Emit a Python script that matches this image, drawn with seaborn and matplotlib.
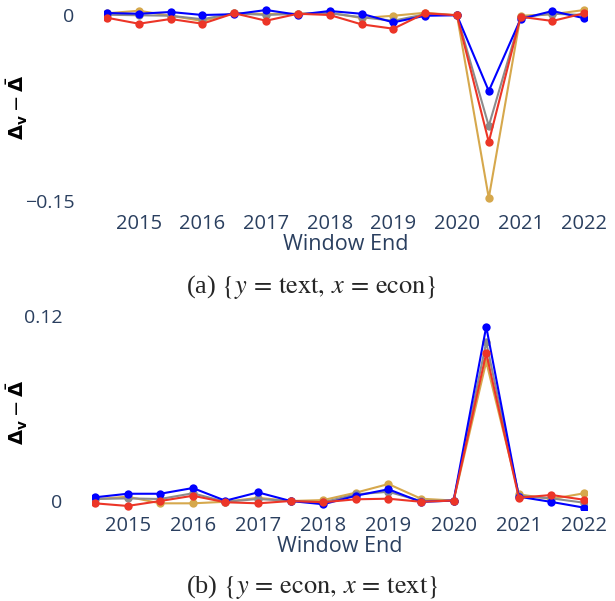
import numpy as np
import pandas as pd
import matplotlib
matplotlib.use("Agg")
import matplotlib.pyplot as plt
import seaborn as sns

# ---- data ----
window_end = [2014.5, 2015.0, 2015.5, 2016.0, 2016.5, 2017.0, 2017.5, 2018.0,
              2018.5, 2019.0, 2019.5, 2020.0, 2020.5, 2021.0, 2021.5, 2022.0]
series_names = ["gold", "gray", "blue", "red"]

# panel (a) {y = text, x = econ}
a_gold = [0.0010, 0.0030, -0.0010, -0.0052, 0.0010, 0.0004, 0.0006, 0.0014,
          -0.0028, -0.0010, 0.0014, -0.0006, -0.1472, -0.0010, 0.0002, 0.0036]
a_gray = [-0.0002, -0.0006, -0.0010, -0.0038, 0.0010, -0.0004, 0.0006, 0.0010,
          -0.0022, -0.0050, 0.0002, -0.0006, -0.0894, -0.0022, 0.0006, -0.0004]
a_blue = [0.0012, 0.0006, 0.0020, -0.0004, 0.0002, 0.0036, -0.0002, 0.0028,
          0.0006, -0.0063, -0.0010, -0.0006, -0.0614, -0.0036, 0.0028, -0.0030]
a_red = [-0.0026, -0.0074, -0.0036, -0.0074, 0.0010, -0.0050, 0.0006, -0.0004,
         -0.0079, -0.0114, 0.0010, -0.0006, -0.1023, -0.0018, -0.0052, 0.0010]

# panel (b) {y = econ, x = text}
b_gold = [0.0011, 0.0028, -0.0015, -0.0015, -0.0005, 0.0021, 0.0000, 0.0006,
          0.0054, 0.0110, 0.0015, 0.0003, 0.0902, 0.0043, 0.0013, 0.0050]
b_gray = [0.0013, 0.0017, 0.0013, 0.0050, -0.0005, 0.0013, 0.0000, -0.0008,
          0.0043, 0.0060, 0.0000, 0.0003, 0.1028, 0.0034, 0.0017, -0.0011]
b_blue = [0.0024, 0.0047, 0.0047, 0.0084, 0.0002, 0.0056, 0.0000, -0.0021,
          0.0034, 0.0076, -0.0006, 0.0003, 0.1129, 0.0028, -0.0006, -0.0043]
b_red = [-0.0015, -0.0032, 0.0000, 0.0034, -0.0008, -0.0015, 0.0000, -0.0008,
         0.0011, 0.0015, -0.0005, 0.0003, 0.0957, 0.0021, 0.0039, 0.0008]

a_ticks = [0, -0.15]
a_ticklabels = ["0", "\u22120.15"]
b_ticks = [0, 0.12]
b_ticklabels = ["0", "0.12"]
year_ticks = [2015, 2016, 2017, 2018, 2019, 2020, 2021, 2022]

palette = {"gold": "#d6a84c", "gray": "#8c8c8c", "blue": "#0000ff", "red": "#ec3527"}


def make_df(gold, gray, blue, red):
    frames = []
    for name, vals in zip(series_names, [gold, gray, blue, red]):
        frames.append(pd.DataFrame({"Window End": window_end, "value": vals, "series": name}))
    return pd.concat(frames, ignore_index=True)


df_a = make_df(a_gold, a_gray, a_blue, a_red)
df_b = make_df(b_gold, b_gray, b_blue, b_red)

sns.set_style("white")
plt.rcParams["font.family"] = ["Open Sans", "DejaVu Sans"]

W, H = 615, 601
fig = plt.figure(figsize=(W / 100, H / 100), dpi=100)


def axes_px(left, right, top, bottom):
    return fig.add_axes([left / W, 1 - bottom / H, (right - left) / W, (bottom - top) / H])


tick_color = "#2a3f5f"


def style(ax, df, ylim, yticks, yticklabels, xlim, left_px, right_px):
    sns.lineplot(data=df, x="Window End", y="value", hue="series", hue_order=series_names,
                 palette=palette, marker="o", markersize=6, markeredgewidth=0,
                 linewidth=1.5, legend=False, ax=ax, estimator=None, sort=False)
    ax.set_xlim(*xlim)
    ax.set_ylim(*ylim)
    ax.set_xticks(year_ticks)
    ax.set_xticklabels([str(y) for y in year_ticks])
    ax.set_yticks(yticks)
    ax.set_yticklabels(yticklabels)
    for s in ax.spines.values():
        s.set_visible(False)
    ax.tick_params(axis="x", length=0, pad=5, labelsize=14.5, labelcolor=tick_color)
    ax.tick_params(axis="y", length=0, pad=21, labelsize=14, labelcolor=tick_color)
    ax.set_xlabel("Window End", fontsize=15.5, color=tick_color, labelpad=0)
    ax.set_ylabel(r"$\mathbf{\Delta_v} - \bar{\mathbf{\Delta}}$", fontsize=14, color="black",
                  math_fontfamily="dejavusans")
    ax.yaxis.set_label_coords((30 - left_px) / (right_px - left_px), 0.5)
    ax.grid(False)


ax1 = axes_px(103.8, 587.4, 6.4, 207.1)
style(ax1, df_a, (-0.1545, 0.0065), a_ticks, a_ticklabels, (2014.45, 2022.05), 103.8, 587.4)

ax2 = axes_px(91.7, 587.3, 314.2, 509.5)
style(ax2, df_b, (-0.0055, 0.121), b_ticks, b_ticklabels, (2014.45, 2022.05), 91.7, 587.3)

fig.text(312 / W, 1 - 287 / H, r"(a) $\{y\,=\,\mathrm{text},\,x\,=\,\mathrm{econ}\}$",
         ha="center", va="center", fontsize=19, family="Liberation Serif", math_fontfamily="stix")
fig.text(312 / W, 1 - 587 / H, r"(b) $\{y\,=\,\mathrm{econ},\,x\,=\,\mathrm{text}\}$",
         ha="center", va="center", fontsize=19, family="Liberation Serif", math_fontfamily="stix")

fig.savefig("out.png", dpi=100)
